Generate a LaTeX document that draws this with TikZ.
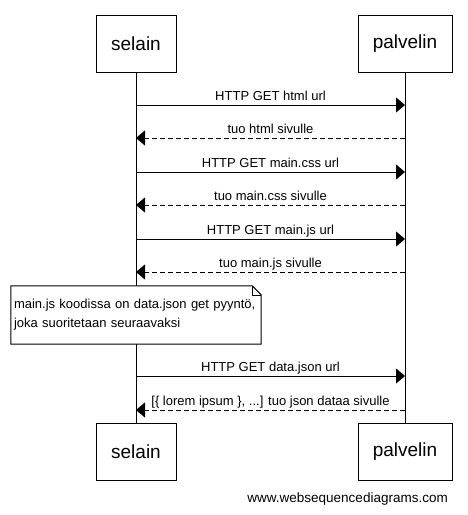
\documentclass[tikz,border=0pt]{standalone}
\usepackage{fontspec}
\setmainfont{Liberation Sans}
\usetikzlibrary{arrows.meta}
\tikzset{
  actor/.style={draw, line width=1pt, minimum height=57pt, inner sep=0pt, font=\fontsize{19}{23}\selectfont},
  msg/.style={line width=1pt, -{Triangle[length=9pt,width=15pt]}},
  reply/.style={msg, dash pattern=on 5pt off 3pt},
  lbl/.style={font=\fontsize{13}{15}\selectfont, inner sep=0pt, anchor=base, yshift=4.5pt},
}
\begin{document}
\begin{tikzpicture}[x=1pt, y=-1pt]
  \useasboundingbox (0,0) rectangle (467,515);

  % Actors (top and bottom)
  \node[actor, minimum width=80pt] (selain) at (136,43.5) {selain};
  \node[actor, minimum width=94pt] (palvelin) at (405,43.5) {palvelin};
  \node[actor, minimum width=80pt] (selainB) at (136,451.5) {selain};
  \node[actor, minimum width=94pt] (palvelinB) at (405,451.5) {palvelin};

  % Lifelines
  \draw[line width=1pt] (selain.south) -- (selainB.north);
  \draw[line width=1pt] (palvelin.south) -- (palvelinB.north);

  % Requests and responses
  \foreach \y/\txt/\r [count=\i] in {105/HTTP GET html url/0, 138/tuo html sivulle/1,
      172/HTTP GET main.css url/0, 205/tuo main.css sivulle/1,
      239/HTTP GET main.js url/0, 272/tuo main.js sivulle/1,
      376/HTTP GET data.json url/0, 410/{[\{ lorem ipsum \}, ...] tuo json dataa sivulle}/1} {
    \coordinate (s\i) at (136,\y);
    \coordinate (p\i) at (405,\y);
    \ifnum\r=0
      \draw[msg] (s\i) -- node[lbl] {\txt} (p\i);
    \else
      \draw[reply] (p\i) -- node[lbl] {\txt} (s\i);
    \fi
  }

  % Note over selain
  \node[fill=white, minimum width=250pt, minimum height=58pt, inner xsep=3pt, inner ysep=0pt,
        text width=244pt, align=left, font=\fontsize{13}{19}\selectfont, yshift=-1pt]
    (note) at (136,314) {main.js koodissa on data.json get pyyntö,\\joka suoritetaan seuraavaksi};
  \draw[line width=1pt] (note.north west) -- ([xshift=-9pt]note.north east)
    -- ([yshift=-9pt]note.north east) -- (note.south east) -- (note.south west) -- cycle;
  \draw[line width=0.6pt] ([xshift=-9pt]note.north east) -- ([xshift=-9pt,yshift=-9pt]note.north east)
    -- ([yshift=-9pt]note.north east);

  % Watermark
  \node[anchor=base east, inner sep=0pt, font=\fontsize{13.5}{16}\selectfont] (wsd) at (448,502) {www.websequencediagrams.com};
\end{tikzpicture}
\end{document}
